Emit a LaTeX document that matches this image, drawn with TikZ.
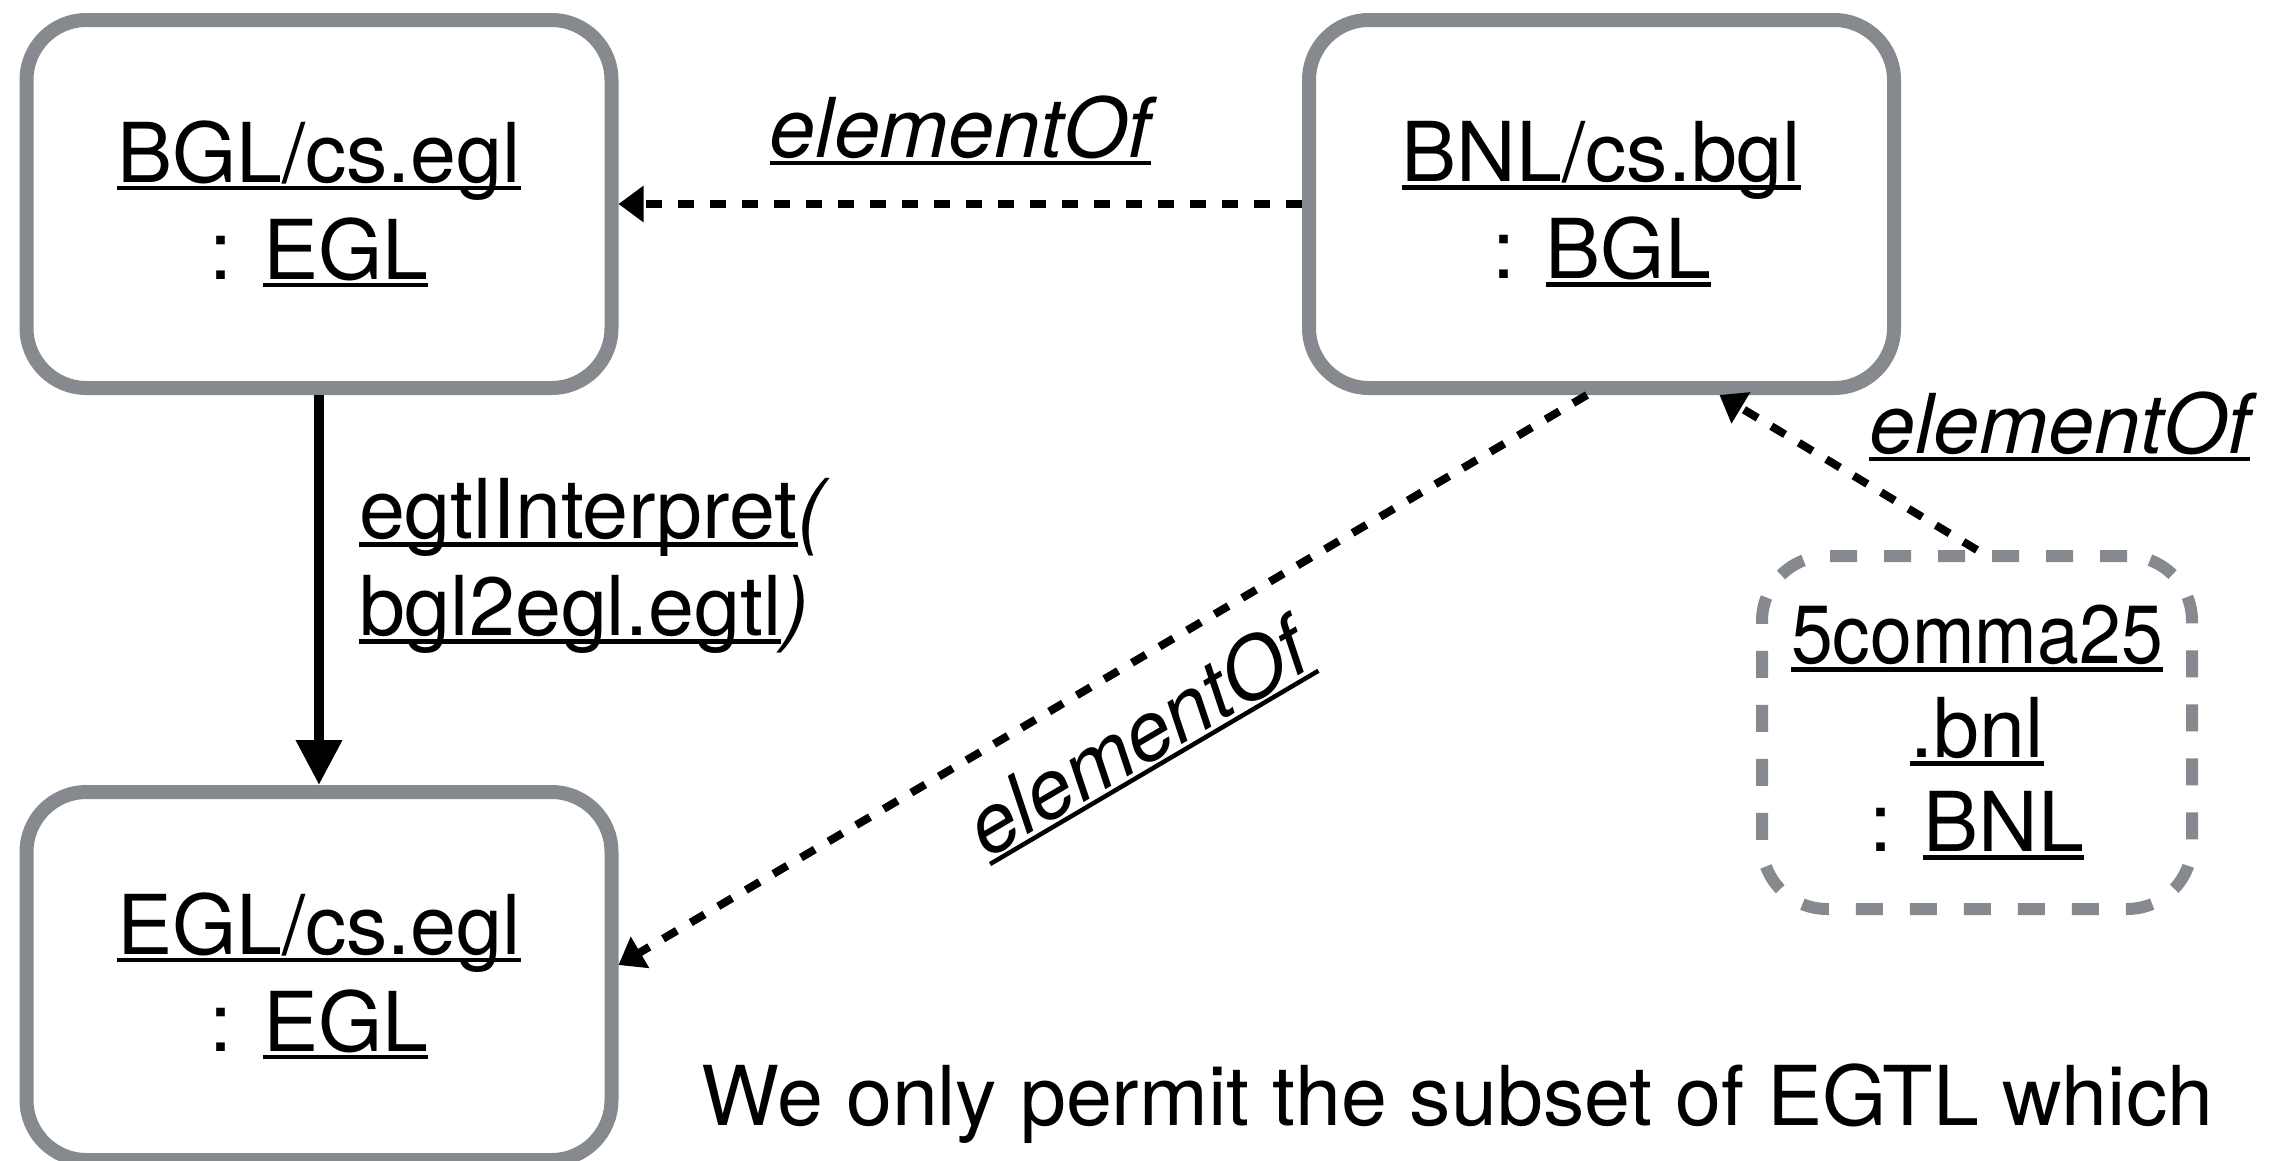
\documentclass[tikz,border=0pt]{standalone}
\usepackage{fontspec}
\usepackage{graphicx}
\setmainfont{TeX Gyre Heros}
\usetikzlibrary{arrows.meta}

% underline drawn at a fixed depth, crossing the descenders
\newsavebox\ulinebox
\newcommand\ulx[1]{\sbox\ulinebox{#1}\rlap{\rule[-0.08cm]{\wd\ulinebox}{0.045cm}}\usebox\ulinebox}

\definecolor{boxgray}{HTML}{86898D}

\tikzset{
  txt/.style={font=\fontsize{23.5pt}{0.97cm}\selectfont, inner sep=0pt},
  objbox/.style={txt, draw=boxgray, fill=white, line width=0.14cm,
    rounded corners=0.6cm, minimum width=5.85cm, minimum height=3.68cm, align=center},
  instbox/.style={draw=boxgray, fill=white, line width=0.12cm, inner sep=0pt,
    rounded corners=0.65cm, dash pattern=on 0.27cm off 0.27cm,
    minimum width=4.30cm, minimum height=3.53cm, align=center,
    font=\fontsize{23.5pt}{0.94cm}\selectfont},
  memberarrow/.style={line width=0.08cm, dash pattern=on 0.16cm off 0.16cm,
    -{Triangle[length=0.25cm,width=0.35cm]}},
  interparrow/.style={line width=0.10cm, -{Triangle[length=0.45cm,width=0.44cm]}},
  lbl/.style={txt}
}

\begin{document}
\begin{tikzpicture}
\useasboundingbox (0,0) rectangle (22.8,-11.6);
\fill[white] (0,0) rectangle (22.8,-11.6);

% objects
\node[objbox] (bgl) at (3.19,-2.04) {\ulx{BGL/cs.egl}\\: \ulx{EGL}};
\node[objbox] (bnl) at (16.015,-2.04) {\ulx{BNL/cs.bgl}\\: \ulx{BGL}};
\node[objbox] (egl) at (3.19,-9.76) {\ulx{EGL/cs.egl}\\: \ulx{EGL}};
\node[instbox] (inst) at (19.77,-7.325)
  {\ulx{\scalebox{0.91}[1]{5comma25}}\\\ulx{.bnl}\\: \ulx{BNL}};

% membership links
\draw[memberarrow] (bnl.west) -- (bgl.east)
  node[midway, lbl, anchor=base, yshift=0.47cm] {\textit{\ulx{elementOf}}};
\draw[memberarrow] ([xshift=-0.145cm]bnl.south) -- ([yshift=0.11cm]egl.east)
  node[midway, lbl, sloped, below=0.3cm] {\textit{\ulx{elementOf}}};
\draw[memberarrow] (inst.north) -- ([xshift=1.18cm]bnl.south)
  node[midway, lbl, anchor=base west, xshift=0.17cm, yshift=0.195cm] {\textit{\ulx{elementOf}}};

% interpretation
\draw[interparrow] (bgl.south) -- (egl.north)
  node[pos=0.4385, lbl, anchor=west, xshift=0.35cm, align=left]
  {\ulx{egtlInterpret}\textit{(}\\\ulx{bgl2egl.egtl}\textit{)}};

\node[txt, anchor=base west] (note) at (7.01,-11.25) {We only permit the subset of EGTL which};
\end{tikzpicture}
\end{document}
